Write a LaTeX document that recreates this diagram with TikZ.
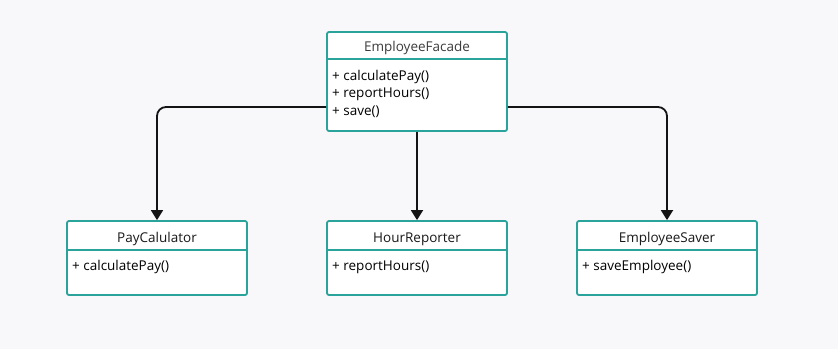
\documentclass[tikz,border=0pt]{standalone}
\usepackage{fontspec}
\setmainfont{Open Sans}
\usetikzlibrary{arrows.meta,positioning,calc}
\definecolor{umlteal}{HTML}{2AA39B}
\definecolor{canvas}{HTML}{F8F8FB}
\definecolor{titlegray}{HTML}{3C3C3C}
\begin{document}
\begin{tikzpicture}[x=1pt,y=-1pt,>={Triangle[width=12pt,length=10pt]},font=\fontsize{13.5}{17.5}\selectfont]
\tikzstyle{cls}=[draw=umlteal,line width=1.8pt,fill=white,rounded corners=2pt,minimum width=180pt,inner sep=0pt]
\tikzstyle{ttl}=[anchor=base,inner sep=0pt,text=black!90]
\tikzstyle{ops}=[anchor=base west,align=left,inner sep=0pt,text=black]
\tikzstyle{link}=[->,line width=1.8pt,draw=black!92,rounded corners=9pt]
\fill[canvas] (0,0) rectangle (838,349);
% facade
\node[cls,minimum height=99pt] (facade) at (417,81.5) {};
\draw[umlteal,line width=1.8pt] (327,59) -- (507,59);
\node[ttl,text=titlegray] (facadeT) at (417,51.7) {EmployeeFacade};
\node[ops] (facadeO) at (332,115) {+ calculatePay()\\+ reportHours()\\+ save()};
% subsystems
\foreach \n/\x/\t/\o in {pay/157/PayCalulator/calculatePay(),hour/417/HourReporter/reportHours(),saver/667/EmployeeSaver/saveEmployee()}{
  \node[cls,minimum height=74pt] (\n) at (\x,258) {};
  \draw[umlteal,line width=1.8pt] (\x-90,250) -- (\x+90,250);
  \node[ttl] (\n T) at (\x,242.3) {\t};
  \node[ops] (\n O) at (\x-85,270) {+ \o};
}
\coordinate (facadeL) at ($(facade.west)+(0,25.5)$);
\coordinate (facadeR) at ($(facade.east)+(0,25.5)$);
\draw[link] (facadeL) -| (pay.north);
\draw[link] (facade.south) -- (hour.north);
\draw[link] (facadeR) -| (saver.north);
\end{tikzpicture}
\end{document}
